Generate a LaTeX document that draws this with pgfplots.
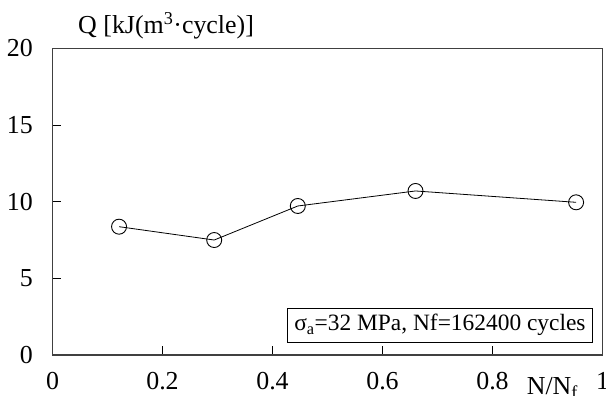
\documentclass[border=0pt]{standalone}
\usepackage{pgfplots}
\pgfplotsset{compat=1.18}
\usepackage{fontspec}
\setmainfont{Liberation Serif}
\begin{document}
\fontsize{26}{30}\selectfont
\begin{tikzpicture}
\begin{axis}[
  at={(0,0)}, anchor=south west,
  scale only axis, width=550bp, height=306.6bp,
  xmin=0, xmax=1, ymin=0, ymax=20,
  xtick={0,0.2,0.4,0.6,0.8,1},
  ytick={0,5,10,15,20},
  xticklabels={0,0.2,0.4,0.6,0.8,1},
  yticklabels={0,5,10,15,20},
  tick align=inside,
  xtick pos=bottom, ytick pos=left,
  major tick length=9bp,
  every tick/.style={black, line width=0.8bp},
  axis line style={black!75, line width=1.6bp},
  xticklabel style={inner sep=0pt, anchor=north, yshift=-17bp},
  yticklabel style={inner sep=0pt, anchor=east, xshift=-19.5bp},
  clip=false,
]
\addplot[black, line width=0.8bp, mark=o, mark size=7.5bp,
  mark options={fill=white, line width=0.9bp}]
  coordinates {(0.121,8.37) (0.294,7.50) (0.446,9.72) (0.660,10.70) (0.952,9.96)};
\node[anchor=base west, inner sep=0pt] at (rel axis cs:0.862,0) [yshift=-39bp] {N/N\textsubscript{f}};
\node[anchor=base west, inner sep=0pt] at (rel axis cs:0,1) [xshift=25.5bp, yshift=15bp] {Q [kJ(m\textsuperscript{3}·cycle)]};
\node[draw=black, line width=0.8bp, anchor=south east, minimum height=34bp, inner xsep=7bp, inner ysep=0pt, fill=white, font=\fontsize{23.5}{26}\selectfont]
  at (rel axis cs:1,0) [xshift=-9.5bp, yshift=12.5bp] {σ\textsubscript{a}=32 MPa, Nf=162400 cycles};
\end{axis}
\pgfresetboundingbox
\path (-52.5bp,-41bp) rectangle (553.5bp,355bp);
\end{tikzpicture}
\end{document}
